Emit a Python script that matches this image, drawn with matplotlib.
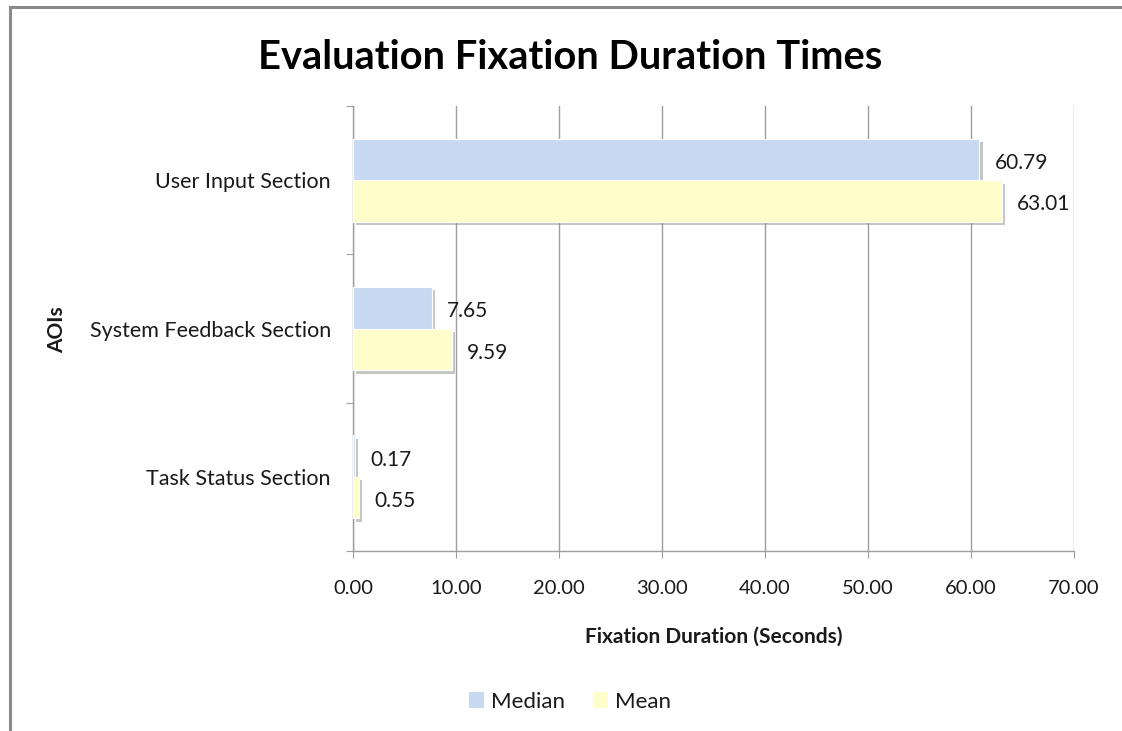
import matplotlib
matplotlib.use("Agg")
import matplotlib.pyplot as plt
import matplotlib.patheffects as pe
from matplotlib.lines import Line2D
from matplotlib.patches import Patch
import numpy as np

categories = ["Task Status Section", "System Feedback Section", "User Input Section"]
median_vals = [0.17, 7.65, 60.79]
mean_vals = [0.55, 9.59, 63.01]
x_ticks = [0, 10, 20, 30, 40, 50, 60, 70]

FONT = "Lato"
plt.rcParams["font.family"] = [FONT, "DejaVu Sans"]

median_color = "#C6D9F1"
mean_color = "#FEFECB"
grid_color = "#9E9E9E"
text_color = "#1A1A1A"

fig = plt.figure(figsize=(11.22, 7.31), dpi=100)
ax = fig.add_axes([0.3146, 0.2462, 0.6426, 0.6088])

y = np.arange(len(categories))
h = 0.28
shadow = [pe.SimplePatchShadow(offset=(2.5, -2.5), shadow_rgbFace="#7f7f7f", alpha=0.45), pe.Normal()]

b1 = ax.barh(y + h / 2, median_vals, height=h, color=median_color,
             edgecolor="white", linewidth=0.8, zorder=3, path_effects=shadow)
b2 = ax.barh(y - h / 2, mean_vals, height=h, color=mean_color,
             edgecolor="white", linewidth=0.8, zorder=3, path_effects=shadow)

for vals, off in ((median_vals, h / 2), (mean_vals, -h / 2)):
    for yi, v in zip(y, vals):
        ax.annotate(f"{v:.2f}", xy=(v, yi + off), xytext=(11, -2.5),
                    textcoords="offset points", va="center", ha="left",
                    fontsize=15, color=text_color, zorder=4)

ax.set_xlim(0, 70)
ax.set_ylim(-0.5, 2.5)
ax.set_xticks(x_ticks)
ax.set_xticklabels([f"{t:.2f}" for t in x_ticks], fontsize=14.5, color=text_color)
ax.set_yticks([-0.5, 0.5, 1.5, 2.5])
ax.set_yticklabels([])
ax.set_yticks(y, minor=True)
ax.set_yticklabels(categories, minor=True, fontsize=15.5, color=text_color)
ax.tick_params(axis="y", which="minor", length=0, pad=16)
ax.tick_params(axis="y", which="major", length=5, color=grid_color, direction="out")
ax.tick_params(axis="x", length=5, color=grid_color, direction="out", pad=16)

ax.grid(axis="x", color=grid_color, linewidth=1.0, zorder=0)
ax.set_axisbelow(True)
for s in ("top", "right"):
    ax.spines[s].set_visible(False)
for s in ("left", "bottom"):
    ax.spines[s].set_color(grid_color)
    ax.spines[s].set_linewidth(1.0)

ax.set_xlabel("Fixation Duration (Seconds)", fontsize=15, fontweight="bold",
              color=text_color, labelpad=21)
fig.text(0.051, 0.549, "AOIs", rotation=90, fontsize=15, fontweight="bold",
         color=text_color, ha="center", va="center")

fig.text(0.508, 0.922, "Evaluation Fixation Duration Times", fontsize=28.7,
         fontweight="bold", color="#000000", ha="center", va="center")

handles = [Patch(facecolor=median_color, edgecolor="none"),
           Patch(facecolor=mean_color, edgecolor="none")]
fig.legend(handles, ["Median", "Mean"], loc="center", bbox_to_anchor=(0.508, 0.04),
           ncol=2, frameon=False, fontsize=16, handlelength=0.7, handleheight=0.7,
           handletextpad=0.3, columnspacing=1.25, labelcolor=text_color)

# chart frame (left and top edges)
fig.add_artist(Line2D([0.0085, 0.0085], [0.0, 0.9905], transform=fig.transFigure,
                      color="#8a8a8a", linewidth=2.2))
fig.add_artist(Line2D([0.0085, 1.0], [0.9905, 0.9905], transform=fig.transFigure,
                      color="#8a8a8a", linewidth=2.2))

fig.savefig("out.png", dpi=100, facecolor="white")
